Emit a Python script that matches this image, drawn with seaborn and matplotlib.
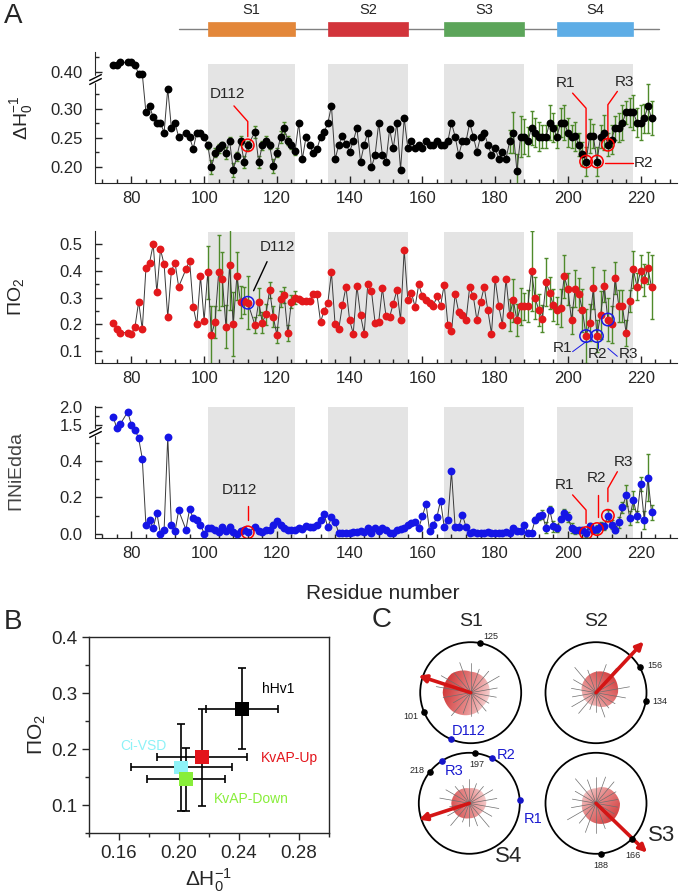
import numpy as np
import matplotlib
matplotlib.use('Agg')
import matplotlib.pyplot as plt
from matplotlib.patches import Circle, Rectangle, Polygon
from matplotlib.colors import LinearSegmentedColormap
from matplotlib.transforms import offset_copy
import seaborn as sns

sns.set_style('ticks')
plt.rcParams['font.family'] = ['Liberation Sans', 'DejaVu Sans']
plt.rcParams['mathtext.fontset'] = 'custom'
plt.rcParams['mathtext.rm'] = 'Liberation Sans'
plt.rcParams['mathtext.it'] = 'Liberation Sans:italic'
plt.rcParams['mathtext.default'] = 'regular'

# ---------------- panel A data ----------------
gaps = [78, 94, 113]
residues = [r for r in range(75, 224) if r not in gaps]

dh = [.412, .412, .416, .416,
      .416, .412, .396, .396, .294, .305, .285, .276, .276, .259,
      .335, .267, .276, .251, .259, .251, .231, .259, .259,
      .251, .237, .199, .224, .232, .237, .224, .245, .195, .218,
      .245, .208, .237, .260, .208, .237, .245, .237, .202,
      .224, .251, .267, .245, .237, .227, .275, .213, .251, .237,
      .224, .230, .251, .260, .275, .305, .213, .237, .253, .239,
      .226, .244, .267, .209, .238, .259, .199, .220, .276, .220,
      .209, .265, .232, .276, .195, .284, .232, .244, .232, .238,
      .232, .244, .238, .238, .244, .238, .238, .244, .276, .252,
      .220, .244, .244, .276, .252, .226, .252, .259, .238, .220,
      .232, .214, .226, .214, .244, .259, .192, .252, .252, .244,
      .267, .259, .252, .252, .252, .276, .267, .252, .276, .276,
      .259, .252, .253, .238, .222, .209, .253, .253, .209, .252,
      .259, .238, .247, .267, .267, .276, .294, .294, .294, .276,
      .276, .284, .304, .284]

po = [.204, .181, .169, .169,
      .164, .191, .285, .181, .410, .431, .500, .320, .481, .425,
      .226, .401, .431, .341, .406, .439, .266, .200, .381,
      .214, .395, .160, .210, .395, .370, .191, .423, .201, .381,
      .285, .289, .281, .196, .285, .206, .238, .329, .229,
      .160, .294, .310, .166, .285, .300, .294, .289, .289, .289,
      .313, .313, .210, .250, .280, .395, .200, .181, .271, .340,
      .215, .165, .344, .234, .165, .353, .325, .206, .209, .336,
      .231, .228, .278, .328, .215, .480, .290, .318, .265, .350,
      .305, .290, .281, .269, .305, .269, .349, .199, .174, .313,
      .246, .234, .215, .340, .305, .215, .284, .340, .253, .165,
      .371, .268, .199, .371, .234, .290, .215, .268, .268, .269,
      .399, .299, .253, .221, .359, .319, .271, .253, .261, .380,
      .331, .215, .334, .315, .253, .156, .206, .336, .156, .236,
      .343, .218, .200, .374, .269, .268, .168, .288, .406, .341,
      .401, .366, .410, .339]

ni = [1.72, 1.41, 1.53, 1.86,
      1.50, 1.37, .524, .413, .047, .078, .033, .115, .000, .024,
      .533, .047, .015, .129, .024, .136, .087, .075, .051,
      .002, .033, .033, .024, .011, .038, .015, .038, .011, .002,
      .015, .024, .009, .036, .015, .009, .024, .024, .051,
      .069, .051, .033, .024, .024, .020, .033, .027, .045, .036,
      .038, .051, .078, .109, .036, .091, .065, .007, .007, .007,
      .007, .013, .013, .016, .013, .031, .004, .031, .018, .031,
      .022, .004, .007, .022, .026, .031, .050, .059, .068, .033,
      .096, .165, .015, .050, .093, .183, .038, .075, .343, .038,
      .038, .106, .038, .007, .009, .007, .007, .004, .009, .007,
      .004, .004, .004, .013, .007, .033, .015, .015, .050, .005,
      .005, .078, .096, .105, .033, .133, .042, .033, .084, .115,
      .093, .033, .020, .020, .020, .005, .045, .020, .027, .045,
      .042, .100, .050, .024, .065, .147, .211, .087, .187, .096,
      .273, .078, .309, .118]

# error bars only where measured: S1 and the C-terminal stretch
err_s1 = [r for r in range(101, 126) if r not in gaps]
err_ct = list(range(184, 224))
dh_err_s1 = [.006, .012, .008, .008, .006, .010, .006, .012, .008, .008, .010, .008,
             .010, .010, .008, .008, .006, .012, .008, .010, .010, .008, .006, .006]
dh_err_ct = [.020, .035, .030, .035, .030, .025, .030, .025, .025, .020,
             .020, .030, .025, .020, .025, .030, .025, .020, .025, .020,
             .020, .025, .030, .020, .025, .020, .030, .020, .025, .020,
             .025, .030, .020, .025, .030, .025, .030, .025, .045, .030]
po_err_s1 = [.100, .110, .060, .140, .100, .080, .170, .120, .090, .060, .050, .100,
             .030, .050, .040, .040, .030, .040, .030, .030, .030, .030, .025, .025]
po_err_ct = [.060, .080, .060, .070, .050, .060, .150, .080, .060, .050,
             .090, .060, .060, .050, .070, .080, .060, .050, .070, .060,
             .080, .100, .070, .080, .060, .090, .060, .080, .070, .060,
             .060, .060, .050, .040, .070, .050, .060, .060, .060, .120]
ni_err_s1 = [.012, .010, .010, .012, .012, .010, .015, .010, .008, .010, .010, .008,
             .008, .010, .010, .008, .008, .012, .015, .010, .008, .008, .006, .006]
ni_err_ct = [.005, .010, .010, .010, .010, .008, .008, .015, .020, .025,
             .030, .020, .030, .020, .015, .020, .030, .025, .020, .015,
             .015, .020, .015, .015, .020, .020, .020, .030, .025, .020,
             .030, .030, .060, .040, .050, .030, .040, .050, .130, .040]

tm_names = ['S1', 'S2', 'S3', 'S4']
tm_start = [101, 134, 166, 197]
tm_end = [125, 156, 188, 218]
tm_colors = ['#E3873A', '#D2343B', '#5CA55A', '#5EADE6']
highlight = [112, 205, 208, 211]

# ---------------- panel B data ----------------
b_names = ['hHv1', 'KvAP-Up', 'Ci-VSD', 'KvAP-Down']
b_dh = [0.242, 0.2156, 0.2016, 0.2049]
b_dh_err = [0.024, 0.030, 0.0335, 0.026]
b_po = [0.272, 0.185, 0.167, 0.146]
b_po_err = [0.072, 0.087, 0.078, 0.056]
b_colors = ['black', '#E3141B', '#8DF2F7', '#88EE3A']
b_lab_x = [0.266, 0.2738, 0.1765, 0.2482]
b_lab_y = [0.308, 0.184, 0.206, 0.1107]

# ---------------- panel C data (helical wheels) ----------------
wheel_names = ['S1', 'S2', 'S4', 'S3']
arrow_ang = [162, 47, 198, -44]
arrow_len = [55, 70, 53, 71]
blob_r = [[19, 20, 21, 27, 28, 26, 22, 18],
          [22, 24, 21, 17, 14, 13, 13, 18],
          [17, 17, 15, 17, 18, 17, 15, 15],
          [24, 20, 15, 15, 14, 16, 20, 24]]
spoke_len = [[30, 26, 22, 34, 28, 24, 20, 32, 27, 23, 35, 25, 21, 30, 26, 33, 22, 28],
             [22, 30, 18, 26, 32, 20, 28, 24, 34, 19, 25, 30, 22, 27, 33, 21, 26, 24],
             [24, 30, 20, 27, 22, 31, 25, 19, 28, 23, 30, 21, 26, 29, 22, 27, 24, 20],
             [26, 22, 31, 24, 28, 20, 33, 25, 22, 30, 24, 28, 21, 26, 32, 23, 27, 25]]
end_ang = [[79, 202], [30, -10], [83, 142], [-45, -84]]
end_lab = [['125', '101'], ['156', '134'], ['197', '218'], ['166', '188']]
blue_ang = [[247], [], [4, 63, 123], []]
blue_lab = [['D112'], [], ['R1', 'R2', 'R3'], []]

W, H = 680, 896
fig = plt.figure(figsize=(W / 100, H / 100), dpi=100)


def frac(x0, y0, x1, y1):
    return [x0 / W, 1 - y1 / H, (x1 - x0) / W, (y1 - y0) / H]


def broken(xp, fp):
    return (lambda v: np.interp(v, xp, fp), lambda d: np.interp(d, fp, xp))


def axis_break(ax, yv):
    tr = ax.get_yaxis_transform()
    ax.plot([0], [yv], marker='s', ms=5, color='white', mec='white',
            transform=tr, clip_on=False, zorder=6)
    for dy in (-2, 2):
        t = offset_copy(tr, fig=fig, x=0, y=dy, units='dots')
        ax.plot([0], [yv], marker=[(-1, -0.5), (1, 0.5)], ms=9, mew=1,
                color='black', transform=t, clip_on=False, zorder=7)


ax1 = fig.add_axes(frac(95, 52, 677, 183))
ax2 = fig.add_axes(frac(95, 231, 677, 363))
ax3 = fig.add_axes(frac(95, 406, 677, 538))
axbar = fig.add_axes(frac(95, 5, 677, 45))

ax1.set_yscale('function', functions=broken([-10, 0.34, 0.39, 10], [-10, 0.34, 0.354, 9.964]))
ax3.set_yscale('function', functions=broken([-10, 0.555, 1.365, 10], [-10, 0.555, 0.57, 2.297]))

series = [(ax1, dh, dh_err_s1, dh_err_ct, 'black', 'red', 0.908),
          (ax2, po, po_err_s1, po_err_ct, '#E3191C', '#1A1AE6', 0.99),
          (ax3, ni, ni_err_s1, ni_err_ct, '#1515E6', 'red', 0.99)]

for ax, vals, e1, e2, col, hcol, shade_top in series:
    for s, e in zip(tm_start, tm_end):
        ax.axvspan(s, e, ymin=0, ymax=shade_top, color='#E4E4E4', lw=0, zorder=0)
    lookup = dict(zip(residues, vals))
    ex = err_s1 + err_ct
    ax.errorbar(ex, [lookup[r] for r in ex], yerr=e1 + e2, fmt='none',
                ecolor='#4F8A2B', elinewidth=1, capsize=1.5, zorder=1)
    ax.plot(residues, vals, color='#3a3a3a', lw=0.7, zorder=2)
    sns.scatterplot(x=residues, y=vals, color=col, s=32, linewidth=0, ax=ax, zorder=3)
    ax.scatter(highlight, [lookup[r] for r in highlight], s=80, facecolors='none',
               edgecolors=hcol, linewidths=1.1, zorder=4)
    ax.set_xlim(70, 230)
    ax.set_xticks(range(80, 221, 20))
    ax.set_xticks(range(72, 230, 4), minor=True)
    ax.tick_params(axis='both', which='major', direction='in', length=5, width=1, labelsize=12)
    ax.tick_params(axis='both', which='minor', direction='in', length=3, width=1)
    ax.tick_params(axis='y', pad=9)
    ax.tick_params(axis='x', pad=6)
    sns.despine(ax=ax)

# top panel
ax1.set_ylim(0.172, 0.434)
ax1.set_yticks([0.20, 0.25, 0.30, 0.40])
ax1.set_yticklabels(['0.20', '0.25', '0.30', '0.40'])
ax1.set_yticks([0.225, 0.275, 0.325, 0.425], minor=True)
ax1.set_ylabel(r'$\Delta H_0^{-1}$', fontsize=14)
ax1.yaxis.set_label_coords(-0.103, 0.5)
axis_break(ax1, 0.383)
ax1.text(106.4, 0.326, 'D112', fontsize=11, ha='center', va='center')
ax1.plot([108.2, 112, 112], [0.305, 0.278, 0.252], color='red', lw=1)
ax1.text(199.3, 0.359, 'R1', fontsize=11, ha='center', va='center')
ax1.plot([201.3, 205, 205], [0.327, 0.301, 0.215], color='red', lw=1)
ax1.text(215.5, 0.365, 'R3', fontsize=11, ha='center', va='center')
ax1.plot([213.6, 211, 211], [0.33, 0.307, 0.244], color='red', lw=1)
ax1.text(220.7, 0.2064, 'R2', fontsize=11, ha='center', va='center')
ax1.plot([210.3, 217.8], [0.206, 0.206], color='red', lw=1)

# middle panel
ax2.set_ylim(0.055, 0.55)
ax2.set_yticks([0.1, 0.2, 0.3, 0.4, 0.5])
ax2.set_yticklabels(['0.1', '0.2', '0.3', '0.4', '0.5'])
ax2.set_yticks([0.15, 0.25, 0.35, 0.45], minor=True)
ax2.set_ylabel(r'$\Pi O_2$', fontsize=14)
ax2.yaxis.set_label_coords(-0.118, 0.5)
ax2.text(120.2, 0.491, 'D112', fontsize=11, ha='center', va='center')
ax2.plot([117.3, 113.6], [0.435, 0.326], color='black', lw=1)
ax2.text(198.6, 0.1125, 'R1', fontsize=11, ha='center', va='center')
ax2.text(208.2, 0.089, 'R2', fontsize=11, ha='center', va='center')
ax2.text(216.7, 0.089, 'R3', fontsize=11, ha='center', va='center')
ax2.plot([201.3, 205], [0.0975, 0.135], color='#1A1AE6', lw=0.7)
ax2.plot([208.2, 208.2], [0.112, 0.135], color='#1A1AE6', lw=0.7)
ax2.plot([213.6, 211], [0.08, 0.11], color='#1A1AE6', lw=0.7)

# bottom panel
ax3.set_ylim(-0.022, 2.02)
ax3.set_yticks([0.0, 0.2, 0.4, 1.5, 2.0])
ax3.set_yticklabels(['0.0', '0.2', '0.4', '1.5', '2.0'])
ax3.set_yticks([0.1, 0.3, 0.5, 1.75], minor=True)
ax3.set_ylabel(r'$\Pi$NiEdda', fontsize=14, color='#444444')
ax3.yaxis.set_label_coords(-0.118, 0.5)
ax3.set_xlabel('Residue number', fontsize=15)
ax3.xaxis.set_label_coords(0.495, -0.35)
axis_break(ax3, 0.825)
ax3.text(109.8, 0.241, 'D112', fontsize=11, ha='center', va='center')
ax3.plot([112.1, 112.1], [0.153, 0.077], color='red', lw=1)
ax3.text(199.1, 0.268, 'R1', fontsize=11, ha='center', va='center')
ax3.plot([201.3, 205, 205], [0.214, 0.131, 0.058], color='red', lw=1)
ax3.text(207.9, 0.305, 'R2', fontsize=11, ha='center', va='center')
ax3.plot([208.2, 208.2], [0.214, 0.095], color='red', lw=1)
ax3.text(215.2, 0.396, 'R3', fontsize=11, ha='center', va='center')
ax3.plot([213.6, 211, 211], [0.341, 0.25, 0.177], color='red', lw=1)

# topology bar above panel A
axbar.set_xlim(70, 230)
axbar.set_ylim(45, 5)
axbar.axis('off')
axbar.plot([93, 225], [29, 29], color='#808080', lw=1, zorder=1)
for name, s, e, c in zip(tm_names, tm_start, tm_end, tm_colors):
    axbar.add_patch(Rectangle((s, 22), e - s, 14.5, facecolor=c, edgecolor=c, lw=0.5, zorder=2))
    axbar.text((s + e) / 2, 10, name, fontsize=10.5, ha='center', va='center')

# ---------------- panel B ----------------
axb = fig.add_axes(frac(89, 637, 329, 833))
for x, y, xe, ye in zip(b_dh, b_po, b_dh_err, b_po_err):
    axb.errorbar(x, y, xerr=xe, yerr=ye, fmt='none', ecolor='black',
                 elinewidth=1.2, capsize=3, capthick=1.2, zorder=2)
sns.scatterplot(x=b_dh, y=b_po, hue=b_names, palette=b_colors, marker='s',
                s=100, linewidth=0, legend=False, ax=axb, zorder=3)
for name, x, y, c in zip(b_names, b_lab_x, b_lab_y, b_colors):
    axb.text(x, y, name, color=c, fontsize=10, ha='center', va='center')
axb.set_xlim(0.14, 0.30)
axb.set_ylim(0.05, 0.40)
axb.set_xticks([0.16, 0.20, 0.24, 0.28])
axb.set_xticklabels(['0.16', '0.20', '0.24', '0.28'])
axb.set_xticks([0.14, 0.18, 0.22, 0.26, 0.30], minor=True)
axb.set_yticks([0.1, 0.2, 0.3, 0.4])
axb.set_yticklabels(['0.1', '0.2', '0.3', '0.4'])
axb.set_yticks([0.05, 0.15, 0.25, 0.35], minor=True)
axb.tick_params(which='major', direction='out', length=5, width=1, labelsize=13.5)
axb.tick_params(which='minor', direction='out', length=3, width=1)
for sp in axb.spines.values():
    sp.set_linewidth(1)
axb.set_xlabel(r'$\Delta H_0^{-1}$', fontsize=15)
axb.set_ylabel(r'$\Pi O_2$', fontsize=15)
axb.xaxis.set_label_coords(0.5, -0.17)
axb.yaxis.set_label_coords(-0.17, 0.5)

# ---------------- panel C ----------------
axc = fig.add_axes(frac(370, 600, 680, 880))
wheel_cx = [470.7, 596.0, 469.3, 596.0]
wheel_cy = [692.7, 692.7, 803.3, 803.3]
wheel_rad = 50.5
title_xy = [(470.7, 621.7), (596.0, 621.7), (508.3, 856.7), (661.7, 835.0)]
title_fs = [14, 14, 16, 16]
end_off = [[(10, -7), (-13, 5)], [(15, -2), (14, 0)], [(1, 11), (-12, -2)], [(1, 16), (0, 12)]]
blue_off = [[(18, -8)], [], [(13, 19), (14, -3), (12, 10)], []]
blob_cmap = LinearSegmentedColormap.from_list('blob', ['#fdf0f0', '#e47c7c', '#cc2222'])


def pt(cx, cy, ang, r):
    a = np.deg2rad(ang)
    return cx + r * np.cos(a), cy - r * np.sin(a)


for i, name in enumerate(wheel_names):
    cx, cy = wheel_cx[i], wheel_cy[i]
    # hydrophobic blob with gradient towards the moment arrow
    th = np.deg2rad(np.arange(0, 360, 5))
    th8 = np.deg2rad(np.arange(0, 405, 45))
    rr = np.interp(th, th8, blob_r[i] + [blob_r[i][0]])
    verts = np.column_stack([cx + rr * np.cos(th), cy - rr * np.sin(th)])
    patch = Polygon(verts, closed=True, facecolor='none', edgecolor='none')
    axc.add_patch(patch)
    gx, gy = np.meshgrid(np.linspace(cx - 32, cx + 32, 80), np.linspace(cy - 32, cy + 32, 80))
    a = np.deg2rad(arrow_ang[i])
    proj = ((gx - cx) * np.cos(a) - (gy - cy) * np.sin(a)) / 28
    im = axc.imshow(np.clip(0.5 + 0.5 * proj, 0, 1), cmap=blob_cmap, vmin=0, vmax=1,
                    extent=(cx - 32, cx + 32, cy + 32, cy - 32), origin='upper',
                    aspect='auto', zorder=1, alpha=0.9)
    im.set_clip_path(patch)
    # spokes (helical wheel positions, 100 degrees per residue)
    for k, L in enumerate(spoke_len[i]):
        sx, sy = pt(cx, cy, 90 - 100 * k, L)
        axc.plot([cx, sx], [cy, sy], color='#6e6e6e', lw=0.5, zorder=2)
    axc.add_patch(Circle((cx, cy), wheel_rad, fill=False, ec='black', lw=1.3, zorder=3))
    ex, ey = pt(cx, cy, arrow_ang[i], arrow_len[i])
    axc.annotate('', xy=(ex, ey), xytext=(cx, cy),
                 arrowprops=dict(arrowstyle='-|>', color='#D41515', lw=2.6,
                                 mutation_scale=11, shrinkA=0, shrinkB=0), zorder=5)
    for ang, lab, off in zip(end_ang[i], end_lab[i], end_off[i]):
        dx, dy = pt(cx, cy, ang, wheel_rad)
        axc.scatter([dx], [dy], s=14, color='black', zorder=6)
        axc.text(dx + off[0], dy + off[1], lab, fontsize=6.5, ha='center', va='center')
    for ang, lab, off in zip(blue_ang[i], blue_lab[i], blue_off[i]):
        dx, dy = pt(cx, cy, ang, wheel_rad)
        axc.scatter([dx], [dy], s=14, color='#1515C8', zorder=6)
        axc.text(dx + off[0], dy + off[1], lab, fontsize=10.5, color='#1a1ad0',
                 ha='center', va='center')
    axc.text(title_xy[i][0], title_xy[i][1], name, fontsize=title_fs[i], ha='center', va='center')

axc.set_xlim(370, 680)
axc.set_ylim(880, 600)
axc.axis('off')

fig.text(13 / W, 1 - 16 / H, 'A', fontsize=20, ha='center', va='center')
fig.text(13 / W, 1 - 622 / H, 'B', fontsize=20, ha='center', va='center')
fig.text(382 / W, 1 - 620 / H, 'C', fontsize=20, ha='center', va='center')

fig.savefig('out.png', dpi=100)
